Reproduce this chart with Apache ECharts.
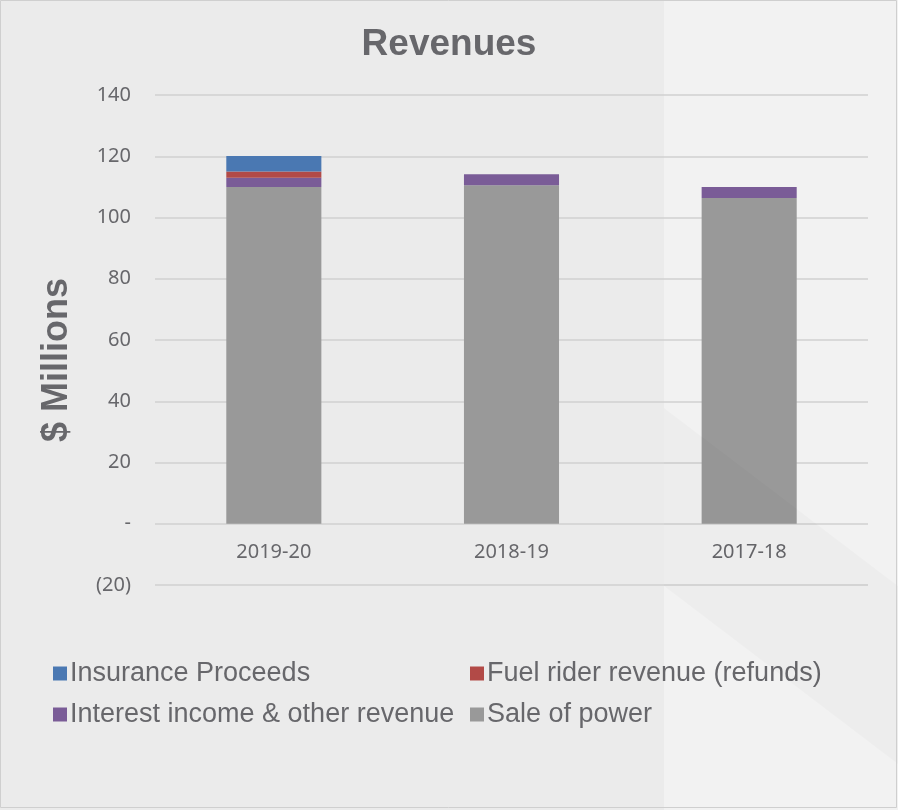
<!DOCTYPE html>
<html><head><meta charset="utf-8">
<script src="https://cdn.jsdelivr.net/npm/echarts@6/dist/echarts.min.js"></script>
<style>html,body{margin:0;padding:0;background:#ebebeb}#c{width:898px;height:810px}</style>
</head><body><div id="c"></div>
<script>
const categories = ['2019-20', '2018-19', '2017-18'];
const saleOfPower = [110, 110.5, 106.4];
const interestIncome = [3.0, 3.6, 3.6];
const fuelRider = [2.0, 0, 0];
const insurance = [5.1, 0, 0];
const yTicks = [-20, 0, 20, 40, 60, 80, 100, 120, 140];
const seriesNames = ['Insurance Proceeds', 'Fuel rider revenue (refunds)', 'Interest income & other revenue', 'Sale of power'];
const colors = { ins: '#4a78b2', fuel: '#b24a47', int: '#7a5c97', sale: '#999999' };

const chart = echarts.init(document.getElementById('c'), null, { renderer: 'canvas' });
const txt = '#67676b';
const tickFont = 'Noto Sans';
function bar(name, data, color) {
  return { name, type: 'bar', stack: 'r', data, barWidth: '40%', itemStyle: { color }, emphasis: { disabled: true } };
}
const legendText = { color: txt, fontSize: 27, fontFamily: 'Liberation Sans', padding: [0, 0, 0, -2] };
chart.setOption({
  animation: false,
  backgroundColor: 'transparent',
  title: { text: 'Revenues', left: 'center', top: 21, textStyle: { color: txt, fontSize: 37, fontWeight: 'bold', fontFamily: 'Liberation Sans' } },
  graphic: [
    { type: 'rect', z: -10, silent: true, shape: { x: 0, y: 0, width: 898, height: 810 }, style: { fill: '#ebebeb' } },
    { type: 'rect', z: -9, silent: true, shape: { x: 664, y: 0, width: 234, height: 810 }, style: { fill: '#f2f2f2' } },
    { type: 'polygon', z: 100, silent: true, shape: { points: [[664, 408], [898, 586], [898, 764], [664, 586]] }, style: { fill: 'rgba(0,0,0,0.02)' } },
    { type: 'rect', z: 101, silent: true, shape: { x: 0.5, y: 0.5, width: 896, height: 807 }, style: { fill: 'none', stroke: '#cfcfcf', lineWidth: 1 } },
    { type: 'text', z: 10, x: 57, y: 360, rotation: Math.PI / 2, style: { text: '$ Millions', fill: txt, font: 'bold 36px "Liberation Sans"', textAlign: 'center', textVerticalAlign: 'middle' } }
  ],
  legend: [
    { left: 48, top: 655, orient: 'vertical', itemWidth: 14, itemHeight: 14, itemGap: 14, icon: 'rect', data: [seriesNames[0], seriesNames[2]], textStyle: legendText },
    { left: 465, top: 655, orient: 'vertical', itemWidth: 14, itemHeight: 14, itemGap: 14, icon: 'rect', data: [seriesNames[1], seriesNames[3]], textStyle: legendText }
  ],
  grid: { left: 155, right: 30, top: 95, bottom: 225, containLabel: false },
  xAxis: {
    type: 'category', data: categories,
    offset: -61,
    axisLine: { show: false, onZero: false },
    axisTick: { show: false },
    axisLabel: { color: txt, fontSize: 20, fontFamily: tickFont, margin: 18 }
  },
  yAxis: {
    type: 'value', min: yTicks[0], max: yTicks[yTicks.length - 1], interval: 20,
    axisLine: { show: false }, axisTick: { show: false },
    splitLine: { lineStyle: { color: '#d0d0d0', width: 1.5 } },
    axisLabel: { color: txt, fontSize: 20, fontFamily: tickFont, margin: 24,
      formatter: v => v === 0 ? '-' : (v < 0 ? '(' + Math.abs(v) + ')' : String(v)) }
  },
  series: [
    bar(seriesNames[3], saleOfPower, colors.sale),
    bar(seriesNames[2], interestIncome, colors.int),
    bar(seriesNames[1], fuelRider, colors.fuel),
    bar(seriesNames[0], insurance, colors.ins)
  ]
});
</script></body></html>
